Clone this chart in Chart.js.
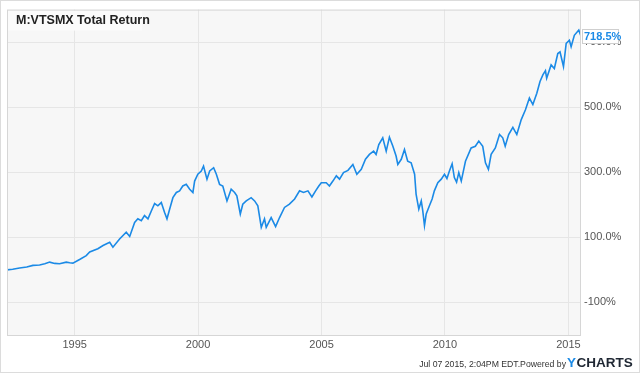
<!DOCTYPE html>
<html>
<head>
<meta charset="utf-8">
<script src="https://cdn.jsdelivr.net/npm/chart.js@4.4.1/dist/chart.umd.min.js"></script>
<style>
  html, body { margin: 0; padding: 0; background: #fff; }
  canvas { display: block; }
</style>
</head>
<body>
<canvas id="chart" width="640" height="373"></canvas>
<script>
// VTSMX total return (%); x = decimal year
const years = [
  1992.26, 1992.49, 1992.77, 1993.06, 1993.31, 1993.58, 1993.79, 1993.99, 1994.19, 1994.39,
  1994.66, 1994.80, 1994.93, 1995.20, 1995.47, 1995.61, 1995.94, 1996.15, 1996.42, 1996.55,
  1996.82, 1997.09, 1997.23, 1997.43, 1997.56, 1997.70, 1997.83, 1997.97, 1998.11, 1998.24,
  1998.37, 1998.51, 1998.64, 1998.74, 1998.85, 1998.98, 1999.12, 1999.25, 1999.38, 1999.52,
  1999.66, 1999.79, 1999.86, 1999.99, 2000.13, 2000.22, 2000.36, 2000.47, 2000.63, 2000.74,
  2000.87, 2001.00, 2001.17, 2001.34, 2001.48, 2001.57, 2001.71, 2001.81, 2001.95, 2002.15,
  2002.29, 2002.42, 2002.56, 2002.69, 2002.76, 2002.96, 2003.14, 2003.30, 2003.50, 2003.70,
  2003.91, 2004.11, 2004.27, 2004.45, 2004.61, 2004.76, 2004.89, 2004.99, 2005.19, 2005.32,
  2005.46, 2005.60, 2005.73, 2005.89, 2006.07, 2006.27, 2006.43, 2006.61, 2006.78, 2006.94,
  2007.11, 2007.21, 2007.32, 2007.48, 2007.62, 2007.75, 2007.89, 2008.02, 2008.09, 2008.23,
  2008.36, 2008.49, 2008.63, 2008.77, 2008.83, 2008.94, 2009.04, 2009.10, 2009.17, 2009.24,
  2009.37, 2009.48, 2009.57, 2009.71, 2009.85, 2009.98, 2010.08, 2010.18, 2010.29, 2010.38,
  2010.47, 2010.56, 2010.66, 2010.83, 2011.06, 2011.23, 2011.37, 2011.53, 2011.64, 2011.76,
  2011.87, 2012.04, 2012.21, 2012.34, 2012.44, 2012.58, 2012.75, 2012.91, 2013.09, 2013.26,
  2013.42, 2013.56, 2013.72, 2013.85, 2013.97, 2014.07, 2014.12, 2014.30, 2014.43, 2014.57,
  2014.66, 2014.80, 2014.91, 2015.04, 2015.11, 2015.24, 2015.42, 2015.51
];
const totalReturn = [
  0, 2, 6, 9, 14, 15, 19, 24, 20, 19,
  24, 22, 21, 32, 44, 55, 65, 75, 85, 70,
  95, 116, 103, 146, 157, 151, 167, 157, 182, 204,
  197, 207, 177, 157, 187, 222, 238, 243, 258, 263,
  248, 238, 273, 294, 304, 319, 279, 304, 314, 294,
  263, 258, 212, 248, 238, 228, 172, 202, 212, 222,
  212, 197, 131, 157, 131, 161, 133, 161, 192, 202,
  218, 243, 238, 243, 224, 243, 258, 268, 268, 258,
  273, 289, 279, 299, 306, 324, 294, 309, 340, 355,
  365, 355, 385, 406, 365, 408, 380, 350, 324, 340,
  370, 334, 329, 294, 233, 187, 212, 182, 136, 172,
  197, 218, 243, 268, 279, 294, 281, 304, 326, 284,
  270, 299, 273, 334, 375, 380, 396, 380, 329, 309,
  355, 375, 416, 406, 380, 416, 438, 416, 462, 492,
  528, 508, 543, 579, 600, 612, 589, 630, 619, 665,
  670, 625, 696, 706, 686, 721, 737, 718.5
];

const xTickValues = [1995, 2000, 2005, 2010, 2015];
const yTickValues = [-100, 100, 300, 500, 700];
const yTickLabels = ['-100%', '100.0%', '300.0%', '500.0%', '700.0%'];

const seriesTitle = 'M:VTSMX Total Return';
const footerText = 'Jul 07 2015, 2:04PM EDT.Powered by';

const BLUE = '#1b8ae6';
const FONT = '"Liberation Sans", Arial, sans-serif';

const frame = {
  id: 'frame',
  beforeDraw(chart) {
    const { ctx, chartArea: a } = chart;
    ctx.save();
    ctx.fillStyle = '#fff';
    ctx.fillRect(0, 0, chart.width, chart.height);
    ctx.strokeStyle = '#dcdcdc';
    ctx.strokeRect(0.5, 0.5, chart.width - 1, chart.height - 1);
    ctx.fillStyle = '#f7f7f7';
    ctx.fillRect(a.left, a.top, a.right - a.left, a.bottom - a.top);
    ctx.restore();
  },
  beforeDatasetsDraw(chart) {
    const { ctx, chartArea: a } = chart;
    ctx.save();
    ctx.fillStyle = '#fbfbfb';
    ctx.fillRect(a.left + 1, a.top + 1, 134, 20);
    ctx.fillStyle = '#222';
    ctx.font = 'bold 12.5px ' + FONT;
    ctx.textBaseline = 'alphabetic';
    ctx.fillText(seriesTitle, a.left + 9, a.top + 14);
    ctx.restore();
  },
  afterDraw(chart) {
    const { ctx, chartArea: a } = chart;
    const y = chart.scales.y;
    ctx.save();
    ctx.strokeStyle = '#d6d6d6';
    ctx.lineWidth = 1;
    ctx.strokeRect(a.left + 0.5, a.top + 0.5, a.right - a.left - 1, a.bottom - a.top);

    // last value tag
    const last = totalReturn[totalReturn.length - 1];
    const ly = Math.round(y.getPixelForValue(last));
    ctx.fillStyle = '#fff';
    ctx.fillRect(a.right + 1, ly - 7, 37, 15);
    ctx.strokeStyle = '#cfcfcf';
    ctx.strokeRect(a.right + 1.5, ly - 6.5, 36, 14);
    ctx.fillStyle = BLUE;
    ctx.font = 'bold 11px ' + FONT;
    ctx.textBaseline = 'middle';
    ctx.fillText(last.toFixed(1) + '%', a.right + 3, ly + 1);

    // footer
    ctx.textBaseline = 'alphabetic';
    ctx.font = '8.7px ' + FONT;
    ctx.fillStyle = '#333';
    ctx.textAlign = 'right';
    ctx.fillText(footerText, 566, 367);
    ctx.textAlign = 'left';
    ctx.font = 'bold 13.5px ' + FONT;
    ctx.fillStyle = BLUE;
    ctx.fillText('Y', 567, 367);
    const yw = ctx.measureText('Y').width;
    ctx.fillStyle = '#1f2733';
    ctx.fillText('CHARTS', 567 + yw + 0.5, 367);
    ctx.restore();
  }
};

new Chart(document.getElementById('chart'), {
  type: 'line',
  data: {
    datasets: [{
      data: years.map((x, i) => ({ x, y: totalReturn[i] })),
      borderColor: BLUE,
      borderWidth: 1.6,
      pointRadius: 0,
      tension: 0,
      fill: false,
    }],
  },
  options: {
    responsive: false,
    animation: false,
    devicePixelRatio: 1,
    layout: { padding: { left: 7, top: 7, right: 0, bottom: 0 } },
    plugins: { legend: { display: false }, tooltip: { enabled: false } },
    scales: {
      x: {
        type: 'linear',
        min: 1992.26,
        max: 2015.51,
        afterBuildTicks: axis => { axis.ticks = xTickValues.map(v => ({ value: v })); },
        afterFit: axis => { axis.height = 38; },
        grid: { color: '#e6e6e6', drawTicks: false },
        border: { display: false },
        ticks: {
          padding: 3,
          color: '#555',
          font: { family: FONT, size: 11 },
          maxRotation: 0,
          callback: v => String(v),
        },
      },
      y: {
        position: 'right',
        min: -200,
        max: 800,
        afterBuildTicks: axis => { axis.ticks = yTickValues.map(v => ({ value: v })); },
        afterFit: axis => { axis.width = 59; },
        grid: { color: '#e6e6e6', drawTicks: false },
        border: { display: false },
        ticks: {
          padding: 3,
          color: '#555',
          font: { family: FONT, size: 11 },
          callback: v => yTickLabels[yTickValues.indexOf(v)],
        },
      },
    },
  },
  plugins: [frame],
});
</script>
</body>
</html>
